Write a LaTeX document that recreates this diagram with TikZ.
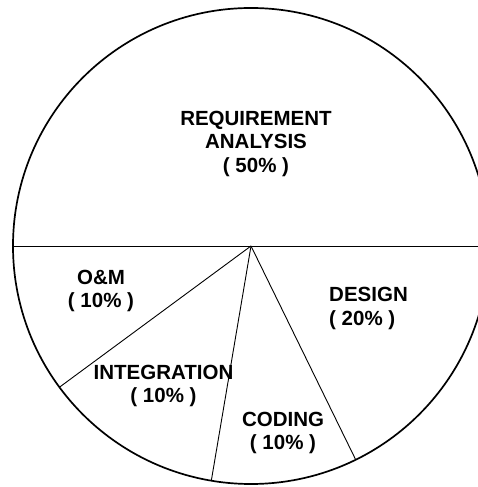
\documentclass[tikz,border=0pt]{standalone}
\usepackage{fontspec}
\setmainfont{Liberation Sans}
\usepackage{tikz}
\usetikzlibrary{positioning,calc}

\begin{document}
\begin{tikzpicture}[x=1pt,y=1pt]
     \tikzset{slicelabel/.style={inner sep=0pt, align=center, font=\fontsize{20.5}{23.5}\selectfont\bfseries}}
     \tikzset{line/.style={draw, line width=0.9pt}}
     \tikzset{rim/.style={draw, line width=1.7pt}}
     \useasboundingbox (0,0) rectangle (478,487);
     \clip (0,0) rectangle (478,487);
     \coordinate (c) at (251,241);
     \coordinate (rw) at ([shift={(180:238)}]c);
     \coordinate (re) at ([shift={(0:238)}]c);
     \coordinate (r1) at ([shift={(216.4:238)}]c);
     \coordinate (r2) at ([shift={(260.4:238)}]c);
     \coordinate (r3) at ([shift={(296.1:238)}]c);
     
     \path [rim] (c) circle (238pt);
     
     \path [line] (rw) -- (re);
     \path [line] (c) -- (r1);
     \path [line] (c) -- (r2);
     \path [line] (c) -- (r3);
     
     \node [slicelabel] (req) at (256,343.2) {REQUIREMENT\\ANALYSIS\\( 50\% )};
     \node [slicelabel, align=left, anchor=west] (des) at (329,178.5) {DESIGN\\( 20\% )};
     \node [slicelabel] (om) at (101,196) {O\&M\\( 10\% )};
     \node [slicelabel] (int) at (163.5,101) {INTEGRATION\\( 10\% )};
     \node [slicelabel] (cod) at (283,54) {CODING\\( 10\% )};
     
   \end{tikzpicture}
\end{document}
